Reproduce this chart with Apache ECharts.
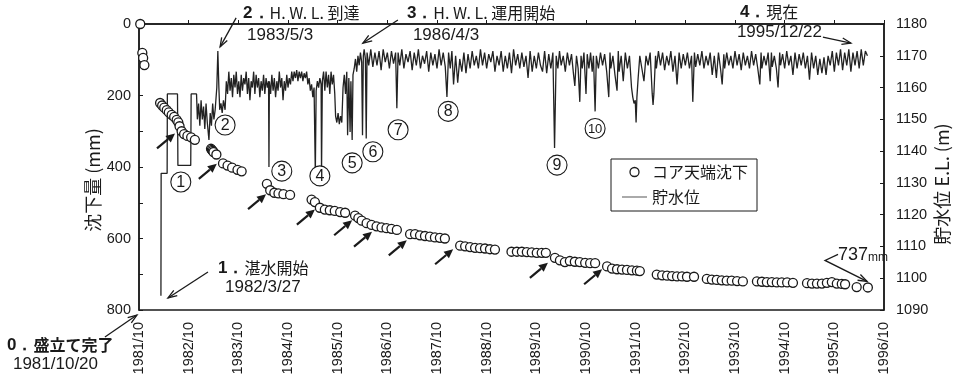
<!DOCTYPE html>
<html><head><meta charset="utf-8">
<script src="https://cdn.jsdelivr.net/npm/echarts/dist/echarts.min.js"></script>
<style>html,body{margin:0;padding:0;background:#fff}#c{width:956px;height:379px}</style>
</head><body><div id="c"></div>
<script>
// x = months since 1981/10 ; settlement in mm (left axis, inverted) ; level in m (right axis)
const yearTickLabels = ['1981/10','1982/10','1983/10','1984/10','1985/10','1986/10','1987/10','1988/10','1989/10','1990/10','1991/10','1992/10','1993/10','1994/10','1995/10','1996/10'];

const settlementEarly = [
 [0.3,0],
 [0.8,81],[1.0,95],[1.3,115],
 [5.1,221],[5.6,228],[6.1,234],[6.7,241],[7.2,247],[7.9,254],[8.5,260],[9.1,268],[9.5,275],[9.8,286],[10.3,300],[10.9,308],[11.7,313],[12.6,317],[13.5,324],
 [17.4,349],[17.6,352],[17.8,355],[18.0,358],[18.7,365],[20.3,390],[21.4,396],[22.5,402],[23.8,408],[24.8,412],
 [30.9,447],[31.7,465],[32.7,472],[33.7,474],[34.9,476],[36.5,478],
 [41.7,491],[42.5,498],[43.7,514],[44.9,519],[46.1,521],[47.3,523],[48.6,526],[49.8,528],
 [52.2,536],[53.0,543],[53.8,550],[55.0,557],[56.2,562],[57.4,566],[58.6,569],[59.8,571],[61.0,573],[62.3,576]
];
const settlementLate = [
 [65.5,588],[66.7,588],[67.9,591],[69.1,593],[70.3,595],[71.5,597],[72.7,598],[73.9,600],
 [77.6,620],[78.8,622],[80.0,624],[81.2,626],[82.4,627],[83.6,628],[84.8,630],[86.0,631],
 [90.0,637],[91.3,637],[92.5,637],[93.7,638],[94.9,639],[96.1,640],[97.3,640],[98.3,640],
 [100.5,654],[101.7,661],[102.9,666],[104.1,663],[105.3,665],[106.5,666],[107.8,668],[109.0,669],[110.2,669],
 [113.1,678],[114.3,684],[115.5,686],[116.7,687],[117.9,688],[119.1,689],[120.3,690],[121.0,691],
 [125.1,701],[126.4,703],[127.6,704],[128.8,705],[130.0,706],[131.2,706],[132.4,707],[134.1,707],
 [137.2,713],[138.4,715],[139.6,716],[140.8,717],[142.0,718],[143.2,718],[144.5,719],[145.9,720],
 [149.3,720],[150.5,721],[151.7,722],[152.9,722],[154.1,723],[155.3,723],[156.6,723],[158.0,724],
 [161.4,725],[162.6,726],[163.8,726],[165.0,726],[166.2,724],[167.4,722],[168.6,726],[169.8,727],[170.6,728],
 [173.4,736],[176.1,737]
];

const level1982 = [
 [5.3,1094.5],[5.35,1133],[6.8,1133],[6.85,1158],[9.3,1158],[9.4,1135.5],[12.5,1135.5],[12.6,1158],[13.9,1158],
 [14.1,1150],[14.4,1155],[14.7,1148],[15.0,1156],[15.3,1150],[15.6,1154],[15.9,1147],[16.2,1155],[16.5,1149],[16.9,1143.5],[17.2,1152],[17.5,1148],[17.8,1155],[18.1,1150],[18.4,1153]
];
const level1983to86 = [
 [18.8,1160],[19.05,1171.5],[19.3,1160],[19.5,1153],[19.8,1155],[20.1,1152],[20.4,1156],[20.8,1153],
 [21.1,1162],[21.4,1158],[21.7,1165],[22.0,1159],[22.3,1163],[22.6,1157],[22.9,1164],[23.2,1160],[23.5,1165],[23.8,1158],[24.1,1162],[24.4,1157],[24.7,1164],[25.0,1159],[25.3,1163],[25.6,1161],[25.9,1165],[26.2,1158],[26.5,1163],[26.8,1156],[27.1,1162],[27.4,1160],[27.7,1165],[28.0,1158],[28.3,1164],[28.6,1160],[28.9,1163],[29.2,1157],[29.5,1162],[29.8,1159],[30.1,1164],[30.4,1158],[30.7,1163],[31.0,1160],[31.3,1162],
 [31.4,1135],[31.5,1162],
 [31.8,1158],[32.1,1164],[32.4,1159],[32.7,1163],[33.0,1157],[33.3,1162],[33.6,1159],[33.9,1165],[34.2,1160],[34.5,1163],[34.8,1156],[35.1,1162],[35.4,1159],[35.7,1164],[36.0,1160],[36.3,1163],[36.6,1161],[36.9,1165],[37.2,1162],[37.5,1165],[37.8,1163],[38.1,1165.5],[38.4,1162],[38.7,1165],[39.0,1163],[39.3,1165],[39.6,1162],[39.9,1164.5],[40.2,1163],[40.5,1165],[40.8,1161],[41.1,1163],[41.4,1159],[41.7,1161],[42.0,1157],[42.3,1160],
 [42.6,1133],[42.8,1159],[43.1,1162],[43.4,1160],[43.7,1163],[44.0,1161],[44.1,1133],[44.3,1162],
 [44.6,1165],[44.9,1159],[45.2,1165],[45.5,1160],[45.8,1164],[46.1,1158],[46.4,1165],[46.7,1161],[47.0,1164],[47.3,1158],
 [47.5,1151],[47.8,1149],[48.1,1152],[48.4,1148.5],[48.7,1151],[49.0,1149],
 [49.3,1160],[49.6,1164],[49.9,1158],[50.2,1165],[50.4,1145],[50.7,1163],[51.0,1146],[51.2,1162],[51.5,1143.5],[51.7,1164],
 [52.0,1166],[52.3,1169],[52.6,1165],[52.9,1170],[53.2,1167],[53.5,1171],[53.8,1168],[54.0,1145],[54.2,1170]
];
const level1986to90 = [
 [54.4,1172],[54.7,1169],[54.9,1144],[55.1,1171],[55.5,1167],
 [56,1172],[56.5,1166.5],[57,1171],[57.5,1167],[58,1171.5],[58.5,1165.5],[59,1172],[59.5,1168],[60,1171],[60.5,1166],[61,1171.5],[61.5,1167.5],[62,1171],
 [62.3,1153.5],
 [62.6,1171],[63,1167],[63.5,1172],[64,1166],[64.5,1170.5],[65,1168],[65.5,1171.5],[66,1165.5],[66.5,1171],[67,1167],[67.5,1172],[68,1166],[68.5,1170],[69,1167.5],[69.5,1171.5],[70,1165],[70.5,1171],[71,1167],[71.5,1170.5],[72,1166],[72.5,1172],[73,1167],[73.5,1171],[74,1166.5],
 [74.4,1157],
 [74.8,1171],[75.2,1166],[75.6,1171.5],[76,1161],[76.5,1170],[77,1161.5],[77.5,1169],[78,1165],[78.5,1171],[79,1164.5],[79.5,1170.5],[80,1166],[80.5,1171.5],[81,1167],[81.5,1170],[82,1166],[82.5,1172],[83,1167],[83.5,1171],[84,1166],[84.5,1170.5],[85,1168],[85.5,1171.5],[86,1165],[86.5,1170],[87,1167],[87.5,1171.5],[88,1165],[88.5,1170],[89,1166],[89.5,1171],[90,1164.5],[90.5,1172],[91,1167],[91.5,1170.5],[92,1166],[92.5,1171],[93,1166.5],[93.5,1170],[94,1163],[94.5,1171.5],[95,1165],[95.5,1170],[96,1166],[96.5,1171],[97,1167],[97.5,1165],[98,1171.5],[98.5,1164.5],[99,1170.5],[99.5,1166],[100,1171],
 [100.4,1141],
 [100.8,1170],[101.2,1166],[101.6,1171.5],[102,1167],[102.5,1170],[103,1165],[103.5,1171],[104,1167],[104.5,1170.5],[105,1164],[105.3,1160.5],[105.7,1170],[106.1,1166],[106.5,1155.5],[106.8,1170],[107.1,1166],[107.5,1171],[108,1158],[108.3,1170.5],[108.7,1166],[109.1,1171],[109.5,1165],[109.8,1170],
 [110.2,1152.5],
 [110.5,1170]
];
const level1991to96 = [
 [111,1166],[111.5,1171],[112,1167],[112.5,1170.5],[113,1165],[113.5,1157],[113.8,1171],[114,1166],[114.5,1170],[115,1164],[115.5,1159],[115.8,1171.5],[116,1165],[116.5,1170],[117,1162],[117.5,1171],[118,1166],[118.5,1170],
 [119,1160],[119.3,1157],[119.6,1155],[119.9,1156],[120.1,1149],[120.3,1157],[120.6,1163],[121,1170],[121.5,1166],[122,1162],[122.5,1170],[123,1167],[123.5,1171],[124,1158],[124.2,1154.5],[124.4,1158],[124.8,1170],
 [125,1166],[125.5,1171.5],[126,1167],[126.5,1171],[127,1165.5],[127.5,1170],[128,1167],[128.5,1171.5],[129,1165],[129.5,1170],[130,1161],[130.5,1171],[131,1166],[131.5,1170.5],[132,1167],[132.5,1171],[133,1166],[133.5,1170],[133.8,1155.5],[134.2,1171],
 [134.5,1166.5],[135,1170.5],[135.5,1167],[136,1171.5],[136.5,1166],[137,1170],[137.5,1167],[138,1171],[138.5,1164],[139,1170],[139.5,1163],[140,1171],[140.5,1166],[140.9,1161],[141.3,1170.5],[141.5,1166],[142,1171],[142.5,1167],[143,1170],[143.5,1166],[144,1171.5],[144.5,1167],[145,1170.5],[145.5,1165.5],[146,1171],[146.5,1167],
 [147,1170],[147.5,1166],[148,1171.5],[148.5,1167],[149,1170.5],[149.5,1166],[150,1161],[150.3,1171],[150.5,1166],[151,1170],[151.5,1167],[152,1171],[152.5,1162],[152.8,1171],[153,1166.5],[153.5,1170],[154,1166],[154.4,1160],[154.8,1171],[155,1167],[155.5,1170.5],[156,1166],[156.5,1171.5],[157,1167],[157.5,1170],[158,1164],
 [158.5,1171],[159,1166],[159.5,1170.5],[160,1167],[160.5,1171],[161,1166],[161.5,1170],[162,1162.5],[162.5,1171],[163,1166],[163.5,1170],[164,1164],[164.5,1169],[165,1164.5],[165.5,1169.5],[166,1164],[166.5,1170],[167,1167],[167.5,1171.5],[168,1165],[168.5,1171],[169,1167],[169.5,1172],[170,1165.5],[170.5,1171],
 [171,1167],[171.5,1172],[172,1165],[172.5,1171],[173,1167],[173.5,1171.5],[174,1166],[174.5,1172],[175,1167],[175.5,1171.5],[176,1170]
];

// annotations (data coordinates: month, level on right axis)
const eventTitles = ['0．','1．','2．','3．','4．'];
const eventNames = ['盛立て完了','湛水開始','H. W. L. 到達','H. W. L. 運用開始','現在'];
const eventDates = ['1981/10/20','1982/3/27','1983/5/3','1986/4/3','1995/12/22'];
const eventTipMonths = [-0.5, 7.0, 19.6, 54.1, 172.0];
const eventTipLevels = [1088.4, 1093.8, 1172.8, 1174.0, 1174.0];

const drawdownMarks = ['1','2','3','4','5','6','7','8','9','10'];
const drawdownMonths = [10.1, 20.8, 34.5, 43.7, 51.5, 56.5, 62.6, 74.7, 101.0, 110.2];
const drawdownLevels = [1130.3, 1148.2, 1133.7, 1132.2, 1136.3, 1139.8, 1146.7, 1152.5, 1135.6, 1147.1];

const arrowMonths = [8.7, 18.8, 30.7, 42.5, 51.5, 56.3, 64.7, 75.9, 98.8, 111.9];
const arrowSettle = [306, 391, 476, 519, 549, 581, 605, 630, 668, 686];

const finalMonth = 175.9, finalSettleTip = 720, finalLabel = '737';

const FONT_NUM = "'Liberation Sans',Arial,sans-serif";
const FONT_DATE = "'Liberation Sans',Arial,sans-serif";
const FONT_JP = "'Noto Sans CJK JP','Noto Sans CJK SC',sans-serif";
const INK = '#1a1a1a';

const chart = echarts.init(document.getElementById('c'), null, {renderer:'canvas'});
const option = {
  animation: false,
  backgroundColor: '#ffffff',
  grid: {left:139, right:72, top:24, bottom:69, show:true, borderColor:INK, borderWidth:1.3, containLabel:false, outerBoundsMode:'none'},
  legend: {
    orient:'vertical', left:611, top:159, padding:[3,9,4,11], itemGap:5, itemWidth:25, itemHeight:9,
    borderColor:INK, borderWidth:1, backgroundColor:'#fff', selectedMode:false,
    textStyle:{fontFamily:FONT_JP, fontSize:16, color:INK, lineHeight:20},
    data:[
      {name:'コア天端沈下', icon:'circle', itemStyle:{color:'#fff', borderColor:INK, borderWidth:1.3}},
      {name:'貯水位', icon:'path://M0,0L30,0L30,1L0,1Z', itemStyle:{color:'#333', borderWidth:0}}
    ]
  },
  xAxis: {
    type:'value', min:0, max:180, interval:12,
    axisLine:{show:true, lineStyle:{color:INK, width:1.6}},
    axisTick:{show:true, inside:true, length:4, lineStyle:{color:INK, width:1}},
    axisLabel:{rotate:90, margin:12, color:INK, fontFamily:FONT_NUM, fontSize:14.5,
      formatter:(v)=> yearTickLabels[Math.round(v/12)] || ''},
    splitLine:{show:false}
  },
  yAxis: [
    {type:'value', inverse:true, min:0, max:800, interval:100, position:'left',
     name:'沈下量 (mm)', nameLocation:'middle', nameRotate:90, nameGap:37, nameMoveOverlap:false,
     nameTextStyle:{fontFamily:FONT_JP, fontSize:18, color:INK, padding:[0,26,0,0]},
     axisLine:{show:true, lineStyle:{color:INK, width:1.6}},
     axisTick:{show:true, inside:true, length:4, lineStyle:{color:INK}},
     axisLabel:{margin:8, color:INK, fontFamily:FONT_NUM, fontSize:14.5, formatter:(v)=> (v%200===0 ? String(v) : '')},
     splitLine:{show:false}},
    {type:'value', min:1090, max:1180, interval:10, position:'right',
     name:'貯水位 E.L. (m)', nameLocation:'middle', nameRotate:90, nameGap:49, nameMoveOverlap:false,
     nameTextStyle:{fontFamily:FONT_JP, fontSize:18, color:INK, padding:[0,34,0,0]},
     axisLine:{show:true, lineStyle:{color:INK, width:1.6}},
     axisTick:{show:true, inside:true, length:4, lineStyle:{color:INK}},
     axisLabel:{margin:12, color:INK, fontFamily:FONT_NUM, fontSize:14.5, formatter:(v)=> String(v)},
     splitLine:{show:false}}
  ],
  series: [
    {name:'貯水位', type:'line', yAxisIndex:1, symbol:'none', silent:true, z:2,
     lineStyle:{color:'#222', width:1.3},
     data:[...level1982, ...level1983to86, ...level1986to90, ...level1991to96]},
    {name:'コア天端沈下', type:'scatter', yAxisIndex:0, symbol:'circle', symbolSize:9, silent:true, z:5,
     itemStyle:{color:'#fff', borderColor:INK, borderWidth:1.3, opacity:1},
     data:[...settlementEarly, ...settlementLate]}
  ]
};
chart.setOption(option);

function pxL(m, v){ return chart.convertToPixel({xAxisIndex:0, yAxisIndex:1}, [m, v]); }
function pxS(m, v){ return chart.convertToPixel({xAxisIndex:0, yAxisIndex:0}, [m, v]); }
function head(tip, from, len, half){
  const dx = tip[0]-from[0], dy = tip[1]-from[1], L = Math.hypot(dx,dy);
  const ux = dx/L, uy = dy/L, bx = tip[0]-ux*len, by = tip[1]-uy*len;
  return {pts:[[tip[0],tip[1]],[bx-uy*half, by+ux*half],[bx+uy*half, by-ux*half]], base:[bx,by]};
}
const G = [];
function thinArrow(points){
  const tip = points[points.length-1], prev = points[points.length-2];
  const h = head(tip, prev, 9, 3.2);
  G.push({type:'polyline', z:100, silent:true, shape:{points:points}, style:{stroke:INK, lineWidth:1.3, fill:null}});
  G.push({type:'polyline', z:100, silent:true, shape:{points:[h.pts[1], h.pts[0], h.pts[2]]}, style:{stroke:INK, lineWidth:1.3, fill:null}});
}
function text(x, y, str, size, family, weight, align){
  G.push({type:'text', z:100, silent:true, x:x, y:y,
    style:{text:str, fill:INK, fontSize:size, fontFamily:family, fontWeight:weight||'normal', align:align||'left', verticalAlign:'middle'}});
}
function richText(x, y, str, rich){
  G.push({type:'text', z:100, silent:true, x:x, y:y, style:{text:str, fill:INK, rich:rich, align:'left', verticalAlign:'middle'}});
}

// event annotations: [tail offset], [title offset], [date offset]
const evLayout = [
  {tail:[-32,22], title:[-130,30], date:[-124,49], bold:true},
  {tail:[40,-26], title:[50,-30], date:[57,-11]},
  {tail:[16,-29], title:[23,-34], date:[27,-12]},
  {tail:[35,-23], title:[44,-30], date:[50,-8]},
  {tail:[-28,-6], title:[-111,-31], date:[-114,-11]}
];
eventTitles.forEach((t,i)=>{
  const tip = pxL(eventTipMonths[i], eventTipLevels[i]);
  const lay = evLayout[i];
  thinArrow([[tip[0]+lay.tail[0], tip[1]+lay.tail[1]], tip]);
  richText(tip[0]+lay.title[0], tip[1]+lay.title[1], '{n|'+t+'}{t|'+eventNames[i]+'}', {
    n:{fontFamily:FONT_DATE, fontSize:17, fontWeight:'bold', fill:INK},
    t:{fontFamily:FONT_JP, fontSize:16, fontWeight: lay.bold ? 'bold' : 'normal', fill:INK}
  });
  text(tip[0]+lay.date[0], tip[1]+lay.date[1], eventDates[i], 17, FONT_DATE, 'normal');
});

// circled drawdown numbers
drawdownMarks.forEach((n,i)=>{
  const p = pxL(drawdownMonths[i], drawdownLevels[i]);
  G.push({type:'circle', z:100, silent:true, shape:{cx:p[0], cy:p[1], r:10}, style:{fill:'#fff', stroke:INK, lineWidth:1.1}});
  G.push({type:'text', z:101, silent:true, x:p[0], y:p[1]+0.5,
    style:{text:n, fill:INK, fontSize: n.length>1 ? 13 : 16, fontFamily: FONT_NUM, align:'center', verticalAlign:'middle'}});
});

// bold arrows pointing at the settlement steps
arrowMonths.forEach((m,i)=>{
  const tip = pxS(m, arrowSettle[i]);
  const tail = [tip[0]-18, tip[1]+15];
  const h = head(tip, tail, 9, 4.2);
  G.push({type:'line', z:100, silent:true, shape:{x1:tail[0], y1:tail[1], x2:h.base[0], y2:h.base[1]}, style:{stroke:INK, lineWidth:2.2}});
  G.push({type:'polygon', z:100, silent:true, shape:{points:h.pts}, style:{fill:INK}});
});

// final value callout
const ft = pxS(finalMonth, finalSettleTip);
thinArrow([[ft[0]-29, ft[1]-27],[ft[0]-42, ft[1]-21], ft]);
richText(ft[0]-29, ft[1]-26, '{a|'+finalLabel+'}{b|mm}', {
  a:{fontFamily:FONT_NUM, fontSize:18, fill:INK},
  b:{fontFamily:FONT_NUM, fontSize:12, fill:INK, padding:[4,0,0,0]}
});

chart.setOption({graphic: G});
</script></body></html>
